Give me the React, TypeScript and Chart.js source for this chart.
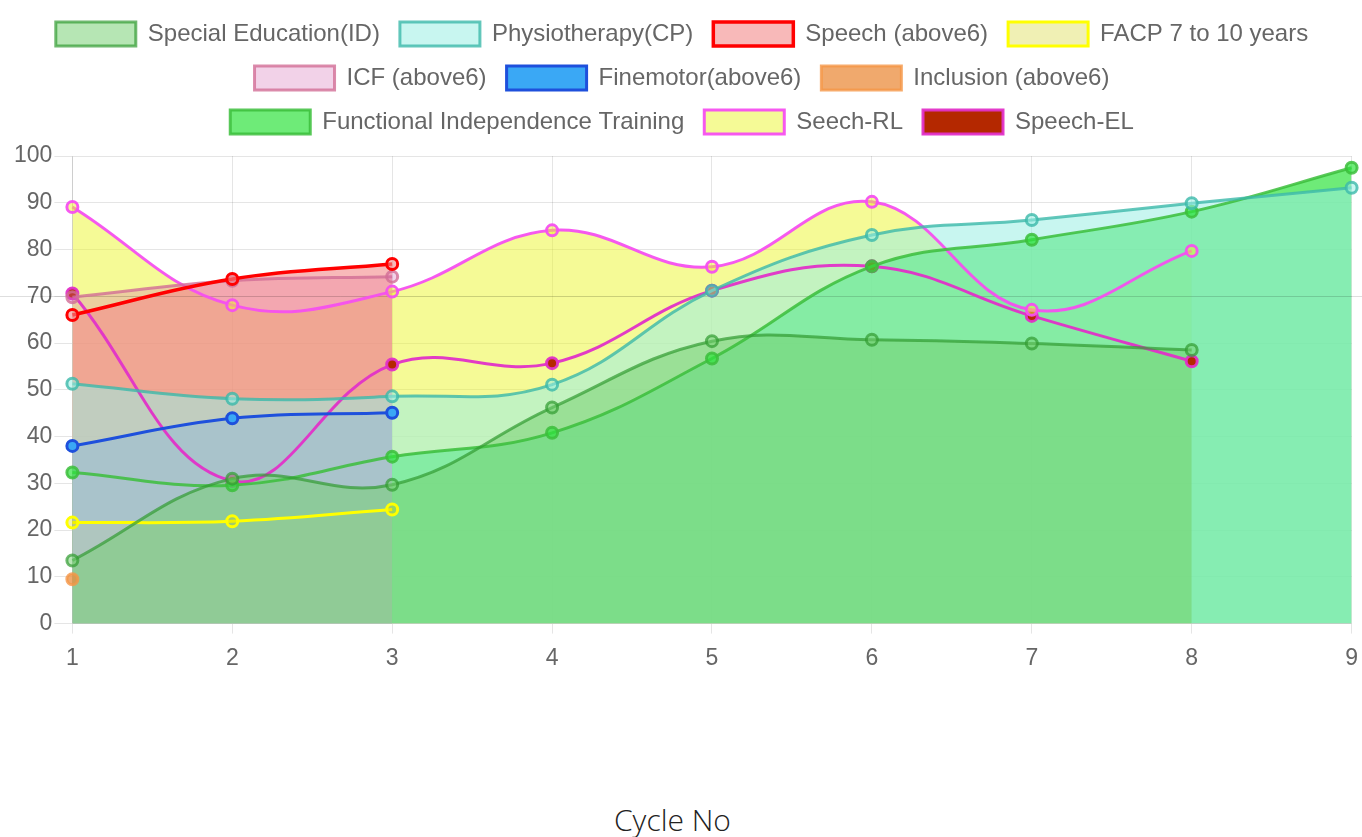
import React, { useEffect, useRef } from "react";
import { Chart, registerables } from "chart.js";

Chart.register(...registerables);

// ---- data ----
const cycles = ["1", "2", "3", "4", "5", "6", "7", "8", "9"];
const yTicks = [0, 10, 20, 30, 40, 50, 60, 70, 80, 90, 100];
const specialEducation = [13.5, 31.0, 29.7, 46.2, 60.4, 60.7, 59.9, 58.5];
const physiotherapy = [51.3, 48.1, 48.6, 51.1, 71.2, 83.1, 86.3, 89.9, 93.2];
const speechAbove6 = [66.0, 73.7, 76.9];
const facp7to10 = [21.6, 21.9, 24.4];
const icfAbove6 = [69.8, 73.3, 74.2];
const finemotorAbove6 = [38.0, 43.9, 45.1];
const inclusionAbove6 = [9.5];
const functionalIndependence = [32.3, 29.6, 35.7, 40.8, 56.7, 76.4, 82.1, 88.1, 97.5];
const seechRL = [89.1, 68.1, 71.0, 84.1, 76.3, 90.2, 67.1, 79.7];
const speechEL = [70.6, 30.5, 55.4, 55.7, 71.2, 76.4, 65.8, 56.1];
const referenceLineValue = 70;

const FONT = "'Liberation Sans', Arial, Helvetica, sans-serif";

const refLinePlugin = {
  id: "refLine",
  beforeDatasetsDraw(chart: any) {
    const y = chart.scales.y.getPixelForValue(referenceLineValue);
    const ctx = chart.ctx;
    ctx.save();
    ctx.strokeStyle = "rgba(0,0,0,0.13)";
    ctx.lineWidth = 1;
    ctx.beginPath();
    ctx.moveTo(0, Math.round(y) + 0.5);
    ctx.lineTo(chart.width, Math.round(y) + 0.5);
    ctx.stroke();
    ctx.restore();
  },
};

const legendGapPlugin = {
  id: "legendGap",
  afterInit(chart: any) {
    const legend = chart.legend;
    if (!legend) return;
    const orig = legend.fit;
    legend.fit = function () {
      orig.call(this);
      this.height += 12;
    };
  },
};

function ds(label: string, data: number[], border: string, bg: string, fill: any, extra: any = {}) {
  return {
    label,
    data,
    borderColor: border,
    backgroundColor: bg,
    fill,
    borderWidth: 3,
    tension: 0.4,
    pointRadius: 5.5,
    pointBorderWidth: 3,
    pointBorderColor: border,
    pointBackgroundColor: bg,
    ...extra,
  };
}

export default function App() {
  const ref = useRef<HTMLCanvasElement | null>(null);

  useEffect(() => {
    document.body.style.margin = "0";
    if (!ref.current) return;
    const chart = new Chart(ref.current, {
      type: "line",
      data: {
        labels: cycles,
        datasets: [
          ds("Special Education(ID)", specialEducation, "rgba(50,155,50,0.7)", "rgba(117,208,113,0.53)", "origin"),
          ds("Physiotherapy(CP)", physiotherapy, "rgba(60,185,170,0.8)", "rgba(154,239,228,0.55)", "origin"),
          ds("Speech (above6)", speechAbove6, "#ff0000", "rgba(243,138,138,0.6)", "origin", { borderWidth: 3.5 }),
          ds("FACP 7 to 10 years", facp7to10, "#ffff00", "rgba(205,205,5,0.3)", "origin"),
          ds("ICF (above6)", icfAbove6, "rgba(210,110,150,0.8)", "rgba(212,105,178,0.3)", "origin"),
          ds("Finemotor(above6)", finemotorAbove6, "#1e50dc", "rgb(58,168,245)", "origin"),
          ds("Inclusion (above6)", inclusionAbove6, "rgba(245,150,70,0.8)", "rgba(235,140,60,0.75)", "origin"),
          ds("Functional Independence Training", functionalIndependence, "rgba(60,190,60,0.85)", "rgba(48,226,62,0.7)", "origin"),
          ds("Seech-RL", seechRL, "rgba(245,80,240,0.95)", "rgba(235,245,45,0.5)", "origin"),
          ds("Speech-EL", speechEL, "rgba(225,50,200,0.95)", "#b42800", false),
        ],
      },
      options: {
        animation: false,
        responsive: true,
        maintainAspectRatio: false,
        layout: { padding: { top: 2, left: 12, right: 10, bottom: 0 } },
        plugins: {
          filler: { drawTime: "beforeDatasetsDraw" },
          legend: {
            position: "top",
            labels: {
              boxWidth: 80,
              boxHeight: 24,
              padding: 20,
              color: "#666",
              font: { family: FONT, size: 24, lineHeight: 1 },
            },
          },
          tooltip: { enabled: false },
        },
        scales: {
          x: {
            grid: { color: "rgba(0,0,0,0.1)", tickLength: 10 },
            ticks: { color: "#666", padding: 4, font: { family: FONT, size: 23, lineHeight: 1.8 } },
          },
          y: {
            min: yTicks[0],
            max: yTicks[yTicks.length - 1],
            grid: { color: "rgba(0,0,0,0.1)", tickLength: 18 },
            ticks: { color: "#666", padding: 2, stepSize: 10, font: { family: FONT, size: 23 } },
          },
        },
      },
      plugins: [refLinePlugin, legendGapPlugin],
    });
    return () => chart.destroy();
  }, []);

  return (
    <div style={{ position: "relative", width: 1362, height: 837, background: "#fff" }}>
      <div style={{ position: "absolute", left: 0, top: 0, width: 1362, height: 683 }}>
        <canvas ref={ref} />
      </div>
      <div
        style={{
          position: "absolute",
          left: 614,
          top: 800,
          lineHeight: "40px",
          fontSize: 30,
          fontFamily: "'Open Sans', 'Noto Sans', sans-serif",
          fontWeight: 300,
          color: "#222",
          whiteSpace: "nowrap",
        }}
      >
        Cycle No
      </div>
    </div>
  );
}
